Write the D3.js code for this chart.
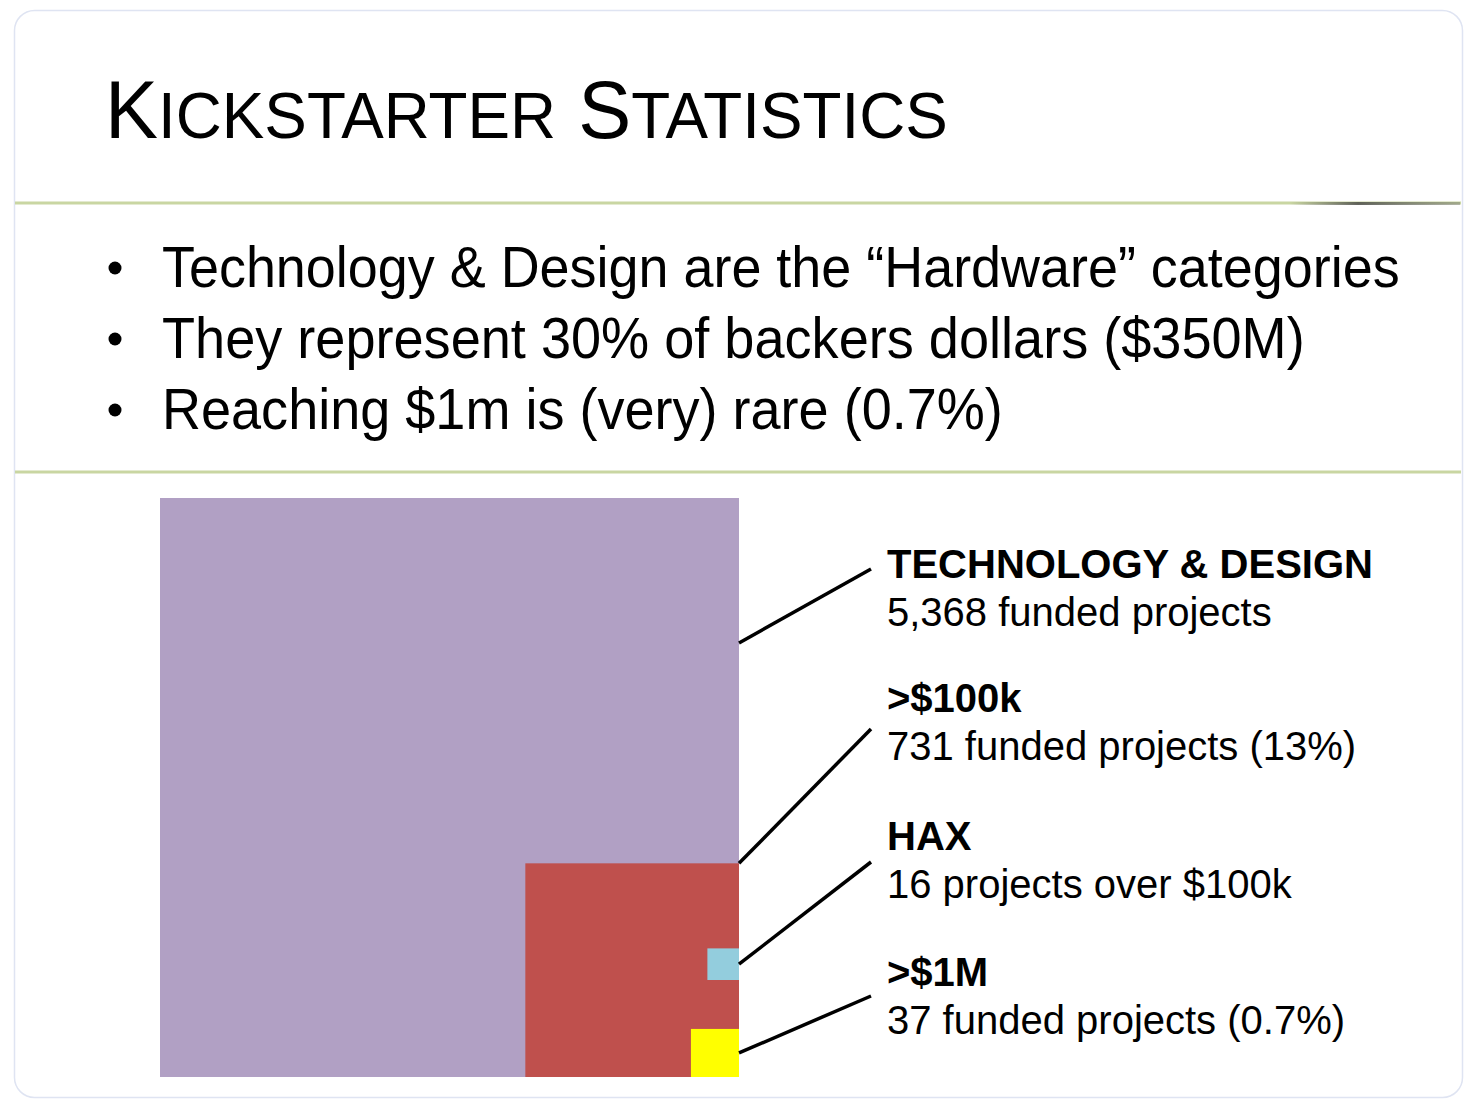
<!DOCTYPE html>
<html>
<head>
<meta charset="utf-8">
<script src="https://cdn.jsdelivr.net/npm/d3@7"></script>
<style>
  html, body { margin: 0; padding: 0; background: #fff; }
  svg { display: block; }
</style>
</head>
<body>
<svg id="chart"></svg>
<script>
var categories = ['TECHNOLOGY & DESIGN', '>$100k', 'HAX', '>$1M'];
var counts = [5368, 731, 16, 37];
var captions = ['5,368 funded projects', '731 funded projects (13%)', '16 projects over $100k', '37 funded projects (0.7%)'];
var colors = ['#b1a0c4', '#bf504d', '#93cddd', '#ffff00'];
var bullets = [
  'Technology & Design are the \u201cHardware\u201d categories',
  'They represent 30% of backers dollars ($350M)',
  'Reaching $1m is (very) rare (0.7%)'
];

var width = 1480,
    height = 1108,
    font = 'Liberation Sans, Arial, Helvetica, sans-serif',
    right = 739,
    bottom = 1077,
    bottomGap = [0, 0, 97, 0],
    leaderEndY = [569, 729, 862, 996],
    labelY = [578, 712, 850, 986],
    bulletY = [287, 358, 429],
    bulletW = [1238, 1143, 841];

var svg = d3.select('#chart').attr('width', width).attr('height', height);

// card
svg.append('rect')
  .attr('x', 14.5).attr('y', 10.5)
  .attr('width', 1448).attr('height', 1087)
  .attr('rx', 20).attr('ry', 20)
  .attr('fill', '#fff')
  .attr('stroke', '#dfe4f2').attr('stroke-width', 1.5);

// separators
[203, 472].forEach(function(y) {
  svg.append('line')
    .attr('x1', 15).attr('x2', 1461)
    .attr('y1', y).attr('y2', y)
    .attr('stroke', '#c9d6a2').attr('stroke-width', 3);
});

var grad = svg.append('defs').append('linearGradient').attr('id', 'curl');
grad.append('stop').attr('offset', '0%').attr('stop-color', '#444').attr('stop-opacity', 0);
grad.append('stop').attr('offset', '40%').attr('stop-color', '#444').attr('stop-opacity', 0.8);
grad.append('stop').attr('offset', '100%').attr('stop-color', '#666').attr('stop-opacity', 0.4);
svg.append('rect')
  .attr('x', 1290).attr('y', 202).attr('width', 170).attr('height', 3)
  .attr('fill', 'url(#curl)');

// fit a text node to a target width by squeezing horizontally
function fit(sel, x, w) {
  var bw = sel.node().getBBox().width;
  sel.attr('transform', 'translate(' + x + ',0) scale(' + (w / bw) + ',1) translate(' + (-x) + ',0)');
}

// title in small caps
var title = svg.append('text')
  .attr('x', 105).attr('y', 138)
  .attr('font-family', font).attr('fill', '#000');
['Kickstarter', ' Statistics'].forEach(function(word) {
  var lead = word.charAt(0) === ' ' ? 2 : 1;
  title.append('tspan').attr('font-size', 81).text(word.slice(0, lead));
  title.append('tspan').attr('font-size', 65).text(word.slice(lead).toUpperCase());
});
fit(title, 105, 843);

// bullets
bullets.forEach(function(b, i) {
  svg.append('circle')
    .attr('cx', 115).attr('cy', bulletY[i] - 19).attr('r', 6.5)
    .attr('fill', '#000');
  var t = svg.append('text')
    .attr('x', 162).attr('y', bulletY[i])
    .attr('font-family', font).attr('font-size', 57)
    .attr('fill', '#000')
    .text(b);
  fit(t, 162, bulletW[i]);
});

// nested squares, area proportional to project count
var side = d3.scaleSqrt().domain([0, counts[0]]).range([0, bottom - 498]);

var squares = counts.map(function(c, i) {
  var s = side(c);
  return { i: i, side: s, x: right - s, y: bottom - bottomGap[i] - s };
});

svg.selectAll('rect.sq')
  .data(squares)
  .enter().append('rect')
  .attr('class', 'sq')
  .attr('x', function(d) { return d.x; })
  .attr('y', function(d) { return d.y; })
  .attr('width', function(d) { return d.side; })
  .attr('height', function(d) { return d.side; })
  .attr('fill', function(d) { return colors[d.i]; });

// leader lines
var startY = [643, squares[1].y, squares[2].y + squares[2].side / 2, squares[3].y + squares[3].side / 2];
svg.selectAll('line.leader')
  .data(categories)
  .enter().append('line')
  .attr('class', 'leader')
  .attr('x1', right).attr('y1', function(d, i) { return startY[i]; })
  .attr('x2', 871).attr('y2', function(d, i) { return leaderEndY[i]; })
  .attr('stroke', '#000').attr('stroke-width', 3.5);

// labels
var labels = svg.selectAll('g.label')
  .data(categories)
  .enter().append('g')
  .attr('class', 'label');

labels.append('text')
  .attr('x', 887).attr('y', function(d, i) { return labelY[i]; })
  .attr('font-family', font).attr('font-size', 40).attr('font-weight', 'bold')
  .attr('fill', '#000')
  .text(function(d) { return d; });

labels.append('text')
  .attr('x', 887).attr('y', function(d, i) { return labelY[i] + 48; })
  .attr('font-family', font).attr('font-size', 40)
  .attr('fill', '#000')
  .text(function(d, i) { return captions[i]; });
</script>
</body>
</html>
